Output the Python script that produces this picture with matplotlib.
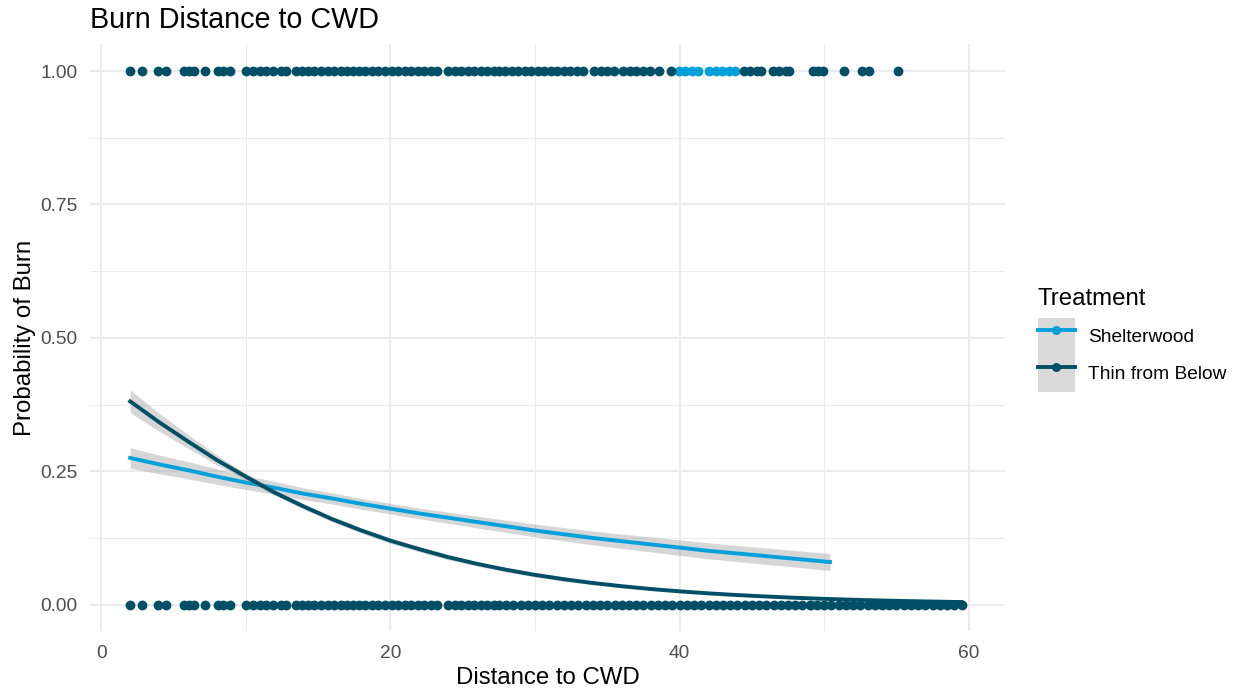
import matplotlib
matplotlib.use("Agg")
import matplotlib.pyplot as plt
from matplotlib.lines import Line2D
from matplotlib.patches import Patch
from matplotlib.legend_handler import HandlerTuple

plt.rcParams['font.family'] = ['Liberation Sans', 'DejaVu Sans']

# 色
col_shelter = "#00A1DB"
col_thin = "#004F66"
col_ribbon = "#999999"

# 点（距離, 燃焼=1 / 非燃焼=0）
left_x = [2.0, 2.85, 3.95, 4.45, 5.7, 6.05, 6.4, 7.2, 8.05, 8.4, 8.9,
          10.0, 10.5, 11.0, 11.4, 11.9, 12.4, 12.75,
          13.5, 13.9, 14.3, 14.7,
          15.2, 15.65, 16.1, 16.55, 17.0, 17.4,
          17.8, 18.25, 18.7, 19.15,
          19.65, 20.1, 20.55, 21.0, 21.45, 21.9, 22.35, 22.8, 23.25,
          24.0, 24.45, 24.9, 25.35, 25.8, 26.25, 26.7, 27.15, 27.5]
thin_top_x = left_x + [27.95, 28.4, 28.85, 29.3, 29.75, 30.2, 30.65, 31.1, 31.55, 32.0,
                       32.45, 32.9, 33.3, 34.1, 34.55, 35.0, 35.45,
                       36.1, 36.55, 37.0, 37.45, 37.95, 38.6, 39.4,
                       44.45, 44.9, 45.35, 45.6, 46.45, 46.9, 47.35, 47.6,
                       49.2, 49.6, 49.95, 51.4, 52.6, 53.1, 55.1]
thin_bottom_x = left_x + [28.0, 28.5, 29.0, 29.5, 30.0, 30.5, 31.0, 31.5, 32.0, 32.5,
                          33.0, 33.5, 34.0, 34.5, 35.0, 35.5, 36.0, 36.5, 37.0, 37.5,
                          38.0, 38.5, 39.0, 39.5, 40.0, 40.5, 41.0, 41.5, 42.0, 42.5,
                          43.0, 43.5, 44.0, 44.5, 45.0, 45.5, 46.0, 46.5, 47.0, 47.5,
                          48.0, 48.5, 49.0, 49.5, 50.0, 50.5, 51.0, 51.5, 52.0, 52.5,
                          53.0, 53.5, 54.0, 54.5, 55.0, 55.5, 56.0, 56.5, 57.0, 57.5,
                          58.0, 58.5, 59.0, 59.5]
shelter_top_x = [39.95, 40.4, 40.85, 41.25, 42.05, 42.5, 42.95, 43.4, 43.85]
shelter_bottom_x = [49.1]

# ロジスティック回帰の予測値と信頼区間
shelter_x = [2, 4, 6, 8, 10, 12, 14, 16, 18, 20, 22, 24, 26, 28, 30, 32, 34, 36, 38, 40,
             42, 44, 46, 48, 50.4]
shelter_fit = [0.275, 0.263, 0.252, 0.240, 0.229, 0.219, 0.208, 0.199, 0.189, 0.180,
               0.171, 0.163, 0.155, 0.147, 0.139, 0.132, 0.125, 0.119, 0.113, 0.107,
               0.101, 0.096, 0.091, 0.086, 0.080]
shelter_lo = [0.256, 0.2455, 0.236, 0.2255, 0.216, 0.207, 0.197, 0.1885, 0.179, 0.170,
              0.161, 0.1525, 0.144, 0.1355, 0.127, 0.1195, 0.112, 0.1055, 0.099, 0.0925,
              0.086, 0.081, 0.0755, 0.0705, 0.064]
shelter_hi = [0.294, 0.2805, 0.268, 0.2545, 0.242, 0.231, 0.219, 0.2095, 0.199, 0.190,
              0.181, 0.1735, 0.166, 0.1585, 0.151, 0.1445, 0.138, 0.1325, 0.127, 0.1215,
              0.116, 0.111, 0.1065, 0.1015, 0.096]

thin_x = [2, 4, 6, 8, 10, 12, 14, 16, 18, 20, 22, 24, 26, 28, 30, 32, 34, 36, 38, 40,
          42, 44, 46, 48, 50, 52, 54, 56, 58, 59.5]
thin_fit = [0.381, 0.342, 0.306, 0.271, 0.240, 0.210, 0.184, 0.160, 0.139, 0.120,
            0.104, 0.0891, 0.0765, 0.0655, 0.0559, 0.0478, 0.0407, 0.0347, 0.0295, 0.0251,
            0.0213, 0.0181, 0.0154, 0.0130, 0.0110, 0.0093, 0.0079, 0.0067, 0.0057, 0.0050]
thin_lo = [0.360, 0.325, 0.293, 0.262, 0.234, 0.205, 0.179, 0.155, 0.134, 0.115,
           0.099, 0.0841, 0.0725, 0.0615, 0.0519, 0.0438, 0.0377, 0.0317, 0.0265, 0.0221,
           0.0183, 0.0161, 0.0134, 0.0110, 0.0090, 0.0073, 0.0059, 0.0047, 0.0037, 0.0030]
thin_hi = [0.402, 0.359, 0.319, 0.280, 0.246, 0.215, 0.189, 0.165, 0.144, 0.125,
           0.109, 0.0941, 0.0805, 0.0695, 0.0599, 0.0518, 0.0437, 0.0377, 0.0325, 0.0281,
           0.0243, 0.0201, 0.0174, 0.0150, 0.0130, 0.0113, 0.0099, 0.0087, 0.0077, 0.0070]

fig = plt.figure(figsize=(12.33, 6.89), dpi=100)
ax = fig.add_axes([0.073, 0.0836, 0.742, 0.852])

# 点
ax.scatter(shelter_top_x, [1] * len(shelter_top_x), s=50, color=col_shelter, lw=0, zorder=3)
ax.scatter(shelter_bottom_x, [0] * len(shelter_bottom_x), s=50, color=col_shelter, lw=0, zorder=3)
ax.scatter(thin_top_x, [1] * len(thin_top_x), s=50, color=col_thin, lw=0, zorder=3)
ax.scatter(thin_bottom_x, [0] * len(thin_bottom_x), s=50, color=col_thin, lw=0, zorder=3)

# 回帰曲線
ax.fill_between(shelter_x, shelter_lo, shelter_hi, color=col_ribbon, alpha=0.4, lw=0, zorder=4)
ax.plot(shelter_x, shelter_fit, color=col_shelter, lw=2.8, zorder=5)
ax.fill_between(thin_x, thin_lo, thin_hi, color=col_ribbon, alpha=0.4, lw=0, zorder=6)
ax.plot(thin_x, thin_fit, color=col_thin, lw=2.8, zorder=7)

ax.set_xlim(-0.78, 62.5)
ax.set_ylim(-0.05, 1.05)
ax.set_xticks([0, 20, 40, 60])
ax.set_xticks([10, 30, 50], minor=True)
ax.set_yticks([0, 0.25, 0.5, 0.75, 1.0])
ax.set_yticklabels(["0.00", "0.25", "0.50", "0.75", "1.00"])
ax.set_yticks([0.125, 0.375, 0.625, 0.875], minor=True)
ax.grid(which="major", color="#EBEBEB", lw=1.5)
ax.grid(which="minor", color="#EBEBEB", lw=0.75)
ax.set_axisbelow(True)
for s in ax.spines.values():
    s.set_visible(False)
ax.tick_params(which="both", length=0)
ax.tick_params(axis="x", pad=9.5, labelsize=13.8, labelcolor="#4D4D4D")
ax.tick_params(axis="y", pad=9, labelsize=13.8, labelcolor="#4D4D4D")

ax.set_title("Burn Distance to CWD", loc="left", fontsize=20.7, pad=11.5)
ax.set_xlabel("Distance to CWD", fontsize=17.3, labelpad=4)
ax.set_ylabel("Probability of Burn", fontsize=17.3, labelpad=3)

# 凡例
fig.text(1038 / 1233, 1 - 305 / 689, "Treatment", fontsize=17.3, ha="left", va="baseline")
handles = [
    (Patch(facecolor="#D9D9D9", edgecolor="none"),
     Line2D([], [], color=col_shelter, lw=2.8, marker="o", markersize=6.5, markeredgewidth=0)),
    (Patch(facecolor="#D9D9D9", edgecolor="none"),
     Line2D([], [], color=col_thin, lw=2.8, marker="o", markersize=6.5, markeredgewidth=0)),
]
leg = fig.legend(handles, ["Shelterwood", "Thin from Below"],
                 handler_map={tuple: HandlerTuple(ndivide=1, pad=0)},
                 loc="upper left", bbox_to_anchor=(1038 / 1233, 1 - 318 / 689), frameon=False,
                 fontsize=13.8, numpoints=1,
                 handlelength=37 / 19.17, handleheight=2.59, labelspacing=0,
                 handletextpad=0.68, borderpad=0, borderaxespad=0)

fig.savefig("out.png", dpi=100)
